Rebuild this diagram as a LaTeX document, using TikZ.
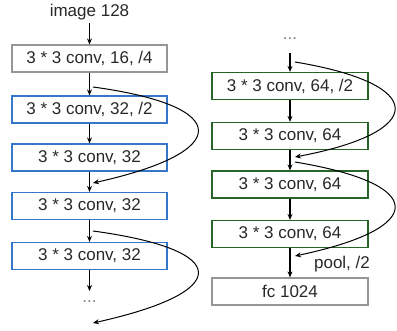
\documentclass[tikz,border=0pt]{standalone}
\usepackage{fontspec}
\setmainfont{Liberation Sans}
\usetikzlibrary{arrows.meta}
\definecolor{bblue}{RGB}{52,119,200}
\definecolor{bgreen}{RGB}{40,100,40}
\definecolor{bgray}{RGB}{150,150,150}
\definecolor{txt}{RGB}{40,40,40}
\begin{document}
\begin{tikzpicture}[x=1pt,y=-1pt,
  every node/.style={font=\fontsize{17}{20}\selectfont, text=txt},
  layer/.style={draw, line width=1.2pt, minimum height=27pt, inner sep=0pt},
  lbox/.style={layer, minimum width=155pt},
  rbox/.style={layer, minimum width=156pt},
  grayb/.style={draw=bgray},
  blueb/.style={draw=bblue},
  greenb/.style={draw=bgreen},
  arr/.style={-{Stealth[length=6pt,width=5pt]}, line width=1.2pt, black},
  skip/.style={-{Stealth[length=6pt,width=5pt]}, line width=1pt, black}]
\useasboundingbox (0,0) rectangle (397,330);
% left column
\node (img) at (89.5,12) {image 128};
\node[lbox,grayb] (L1) at (89.5,58.5) {3 * 3 conv, 16, /4};
\node[lbox,blueb] (L2) at (89.5,109.5) {3 * 3 conv, 32, /2};
\node[lbox,blueb] (L3) at (89.5,157.5) {3 * 3 conv, 32};
\node[lbox,blueb] (L4) at (89.5,206) {3 * 3 conv, 32};
\node[lbox,blueb] (L5) at (89.5,256) {3 * 3 conv, 32};
\node[text=gray] (Ldots) at (89.5,302) {...};
\coordinate (Lend) at (89.5,291);
\draw[arr] (img.south) -- (L1.north);
\draw[arr] (L1.south) -- (L2.north);
\draw[arr] (L2.south) -- (L3.north);
\draw[arr] (L3.south) -- (L4.north);
\draw[arr] (L4.south) -- (L5.north);
\draw[arr] (L5.south) -- (Lend);
\coordinate (s1a) at (93,87);
\coordinate (s1b) at (93,183);
\coordinate (s2a) at (93,231);
\coordinate (s2b) at (93,323);
\draw[skip] (s1a) .. controls (233,106) and (233,152) .. (s1b);
\draw[skip] (s2a) .. controls (233,250) and (233,292) .. (s2b);
% right column
\node[text=gray] (Rdots) at (290,39) {...};
\node[rbox,greenb] (R1) at (290,86) {3 * 3 conv, 64, /2};
\node[rbox,greenb] (R2) at (290,136) {3 * 3 conv, 64};
\node[rbox,greenb] (R3) at (290,184.5) {3 * 3 conv, 64};
\node[rbox,greenb] (R4) at (290,234) {3 * 3 conv, 64};
\node[rbox,grayb] (fc) at (290,291.5) {fc 1024};
\node (pool) at (342,264) {pool, /2};
\coordinate (Rtop) at (290,53);
\draw[arr] (Rtop) -- (R1.north);
\draw[arr] (R1.south) -- (R2.north);
\draw[arr] (R2.south) -- (R3.north);
\draw[arr] (R3.south) -- (R4.north);
\draw[arr] (R4.south) -- (fc.north);
\coordinate (s3a) at (295,62);
\coordinate (s3b) at (295,157);
\coordinate (s4a) at (295,162);
\coordinate (s4b) at (295,256);
\draw[skip] (s3a) .. controls (428,84) and (428,132) .. (s3b);
\draw[skip] (s4a) .. controls (428,184) and (428,228) .. (s4b);
\end{tikzpicture}
\end{document}
